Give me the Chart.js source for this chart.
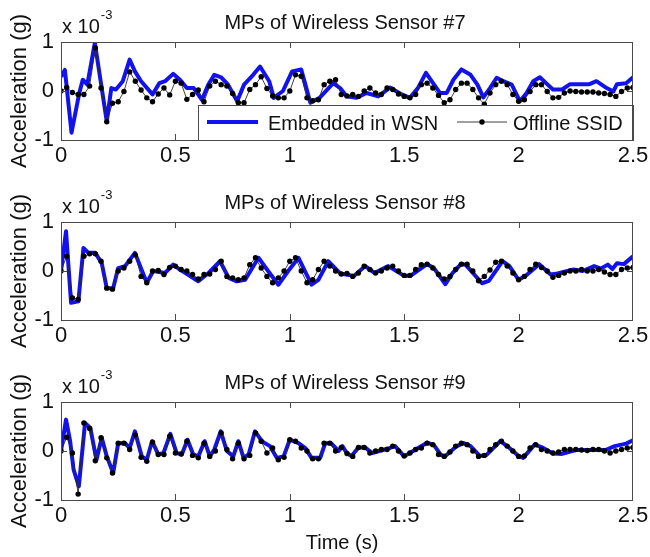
<!DOCTYPE html>
<html>
<head>
<meta charset="utf-8">
<script src="https://cdn.jsdelivr.net/npm/chart.js@4.4.1/dist/chart.umd.min.js"></script>
<style>
  html, body { margin: 0; padding: 0; background: #fff; }
  #wrap { position: relative; width: 650px; height: 557px; }
  canvas { position: absolute; left: 0; }
</style>
</head>
<body>
<div id="wrap">
  <canvas id="c7" width="650" height="180" style="top:0px"></canvas>
  <canvas id="c8" width="650" height="180" style="top:180px"></canvas>
  <canvas id="c9" width="650" height="197" style="top:360px"></canvas>
</div>
<script>
// Axis ticks
const timeTicks = [0, 0.5, 1, 1.5, 2, 2.5];
const accelTicks = [-1, 0, 1];

// Offline SSID mode-shape samples (x 1e-3 g), one every SSID_DT seconds
const SSID_DT = 0.025;
const ssid7 = [
  0, 0.07, -0.03, -0.07, -0.07, 0.10, 0.88, 0.06, -0.63, -0.25,
  -0.22, -0.01, 0.39, 0.2, 0.02, -0.14, -0.22, -0.06, 0.06, -0.08,
  0.2, 0.16, -0.17, -0.07, 0.02, -0.22, 0.1, 0.2, 0.13, 0.1,
  -0.05, -0.24, -0.24, 0.03, 0.13, 0.29, 0.05, -0.1, -0.14, -0.14,
  0, 0.33, 0.3, -0.14, -0.2, -0.18, 0.13, 0.2, 0.23, -0.07,
  -0.1,
  -0.07, -0.11, 0, 0.06, -0.04, -0.07, 0.06, 0.03, -0.06, -0.11,
  -0.14, -0.07, 0.13, 0.16, 0.06, -0.09, -0.24, -0.18, 0.03, 0.16,
  0.16, 0.03, -0.14, -0.27, -0.04, 0.13, 0.2, 0.13, -0.07, -0.21,
  -0.18, -0.01, 0.13, 0.13, -0.01, -0.14, -0.13, -0.04, 0, -0.01,
  -0.02, -0.02, -0.02, -0.04, -0.05, -0.07, -0.11, -0.01, 0.06, 0.07
];
const ssid8 = [
  0, 0.3, -0.55, -0.58, 0.3, 0.35, 0.35, 0.2, -0.35, -0.37,
  0, 0.06, 0.2, 0.33, -0.11, -0.24, 0, 0.01, -0.07, 0.07,
  0.1, 0.03, 0, -0.07, -0.16, -0.07, -0.06, 0.03, 0.2, -0.11,
  -0.14, -0.18, -0.14, 0.13, 0.27, 0.06, -0.11, -0.24, -0.14, 0,
  0.2, 0.27, 0, -0.24, -0.18, 0.03, 0.2, 0.1, 0, -0.06,
  -0.05,
  -0.11, -0.04, 0.1, 0.03, -0.04, 0, 0.06, 0.1, 0, -0.09,
  -0.09, 0.03, 0.13, 0.14, 0.06, -0.07, -0.16, -0.11, 0.03, 0.14,
  0.14, 0, -0.2, -0.11, 0.02, 0.18, 0.2, 0.1, -0.04, -0.18,
  -0.11, 0.03, 0.14, 0.07, 0, -0.13, -0.09, -0.04, 0, 0,
  0.03, 0, 0, 0.03, -0.02, -0.07, -0.07, 0.03, 0.06, 0.07
];
const ssid9 = [
  0, 0.28, -0.04, -0.88, 0.57, 0.46, -0.2, 0.27, -0.14, -0.45,
  0.16, 0.16, 0.03, 0.33, -0.13, -0.21, 0.18, -0.07, -0.07, 0.3,
  -0.04, -0.06, 0.2, -0.09, -0.14, 0.16, -0.11, 0, 0.37, 0.03,
  -0.16, 0.16, -0.16, -0.09, 0.37, 0.2, -0.04, 0.06, -0.18, -0.13,
  0.23, 0.2, 0.06, 0, -0.16, -0.16, 0.16, 0.16, 0, 0.07,
  -0.05,
  -0.11, 0.07, 0.07, -0.04, 0, 0.03, 0.03, 0.1, 0, -0.1,
  -0.04, 0.03, 0.06, 0.16, 0.13, -0.07, -0.11, -0.02, 0.1, 0.16,
  0.13, 0, -0.11, -0.09, 0.03, 0.13, 0.2, 0.1, 0, -0.11,
  -0.1, 0.06, 0.13, 0.03, 0, -0.04, -0.02, 0.03, 0.03, 0.03,
  0.02, 0.01, 0.03, 0.03, 0, -0.04, 0, 0.03, 0.06, 0.07
];

// Mode shapes identified on board the sensor network: [time (s), value]
const wsn7 = [
  [0,0.29],[0.017,0.43],[0.046,-0.85],[0.08,-0.04],[0.095,0.23],[0.115,0.13],[0.148,0.98],[0.2,-0.62],
  [0.22,0.06],[0.24,0.03],[0.27,0.2],[0.3,0.64],[0.323,0.4],[0.35,0.2],[0.4,-0.07],[0.43,0.16],
  [0.455,0.2],[0.49,0.35],[0.52,0.23],[0.55,0.06],[0.58,0.06],[0.616,-0.18],[0.644,0.13],[0.67,0.33],
  [0.7,0.28],[0.73,0.13],[0.77,-0.21],[0.8,0.13],[0.84,0.33],[0.87,0.5],[0.91,0.2],[0.93,-0.14],
  [0.97,0],[1.01,0.4],[1.05,0.44],[1.09,-0.24],[1.13,-0.14],[1.19,0.16],[1.22,0.06],[1.249,-0.11],
  [1.29,-0.14],[1.336,-0.04],[1.386,-0.11],[1.438,0.07],[1.489,-0.07],[1.525,-0.14],[1.56,0.06],[1.595,0.37],
  [1.62,0.2],[1.656,-0.04],[1.686,-0.04],[1.715,0.23],[1.75,0.44],[1.79,0.33],[1.82,0.13],[1.846,-0.13],
  [1.875,0.06],[1.904,0.27],[1.933,0.2],[1.97,0.13],[2.006,-0.21],[2.035,-0.04],[2.064,0.2],[2.093,0.28],
  [2.12,0.16],[2.15,0.03],[2.19,0.03],[2.225,0.14],[2.31,0.14],[2.34,0.2],[2.385,0.06],[2.414,-0.01],
  [2.43,0.14],[2.47,0.16],[2.5,0.28]
];
const wsn8 = [
  [0,0],[0.022,0.81],[0.044,-0.65],[0.076,-0.62],[0.098,0.47],[0.12,0.37],[0.15,0.37],[0.178,0.16],
  [0.2,-0.35],[0.228,-0.35],[0.25,0.06],[0.28,0.1],[0.323,0.37],[0.375,-0.24],[0.403,0],[0.455,-0.04],
  [0.49,0.13],[0.52,0.03],[0.6,-0.21],[0.645,-0.04],[0.695,0.2],[0.733,-0.14],[0.768,-0.21],[0.805,-0.18],
  [0.863,0.27],[0.905,0],[0.95,-0.28],[0.993,0],[1.038,0.27],[1.095,-0.28],[1.125,-0.18],[1.168,0.2],
  [1.22,-0.05],[1.28,-0.1],[1.33,0.1],[1.37,-0.04],[1.43,0.1],[1.5,-0.1],[1.53,-0.09],[1.6,0.14],
  [1.63,0.06],[1.68,-0.27],[1.71,-0.05],[1.75,0.15],[1.77,0.12],[1.84,-0.25],[1.87,-0.2],[1.93,0.2],
  [1.96,0.1],[2.0,-0.18],[2.03,-0.1],[2.09,0.14],[2.14,-0.07],[2.17,-0.05],[2.24,0.03],[2.28,0],
  [2.33,0.1],[2.36,0.05],[2.39,0.13],[2.41,0.04],[2.43,0.16],[2.46,0.14],[2.5,0.3]
];
const wsn9 = [
  [0,0],[0.022,0.64],[0.04,0.2],[0.055,-0.38],[0.078,-0.72],[0.105,0.57],[0.128,0.47],[0.155,-0.18],
  [0.178,0.27],[0.2,-0.11],[0.228,-0.45],[0.25,0.16],[0.28,0.16],[0.3,0.06],[0.323,0.4],[0.353,-0.11],
  [0.375,-0.18],[0.398,0.2],[0.425,-0.07],[0.448,-0.04],[0.478,0.35],[0.505,-0.04],[0.528,-0.07],[0.553,0.23],
  [0.578,-0.07],[0.6,-0.11],[0.628,0.2],[0.65,-0.11],[0.67,0.03],[0.698,0.4],[0.725,0],[0.753,-0.11],
  [0.775,0.2],[0.798,-0.14],[0.82,-0.07],[0.848,0.4],[0.878,0.2],[0.913,0.1],[0.943,-0.14],[0.973,-0.11],
  [1.0,0.23],[1.038,0.16],[1.068,0.06],[1.095,-0.14],[1.133,-0.14],[1.155,0.16],[1.18,0.16],[1.213,0],
  [1.23,0.1],[1.25,-0.05],[1.27,-0.1],[1.3,0.07],[1.33,0.07],[1.36,-0.04],[1.43,0.05],[1.46,0.1],
  [1.5,-0.11],[1.55,0.03],[1.6,0.17],[1.63,0.12],[1.66,-0.08],[1.68,-0.1],[1.73,0.1],[1.76,0.16],
  [1.79,0.1],[1.83,-0.1],[1.86,-0.08],[1.92,0.2],[1.95,0.1],[2.0,-0.1],[2.02,-0.14],[2.07,0.13],
  [2.1,0.08],[2.15,-0.05],[2.19,-0.06],[2.25,0.02],[2.3,0.02],[2.38,0.02],[2.42,0.1],[2.47,0.15],[2.5,0.22]
];

const FONT = '"Liberation Sans", Arial, Helvetica, sans-serif';
const BLUE = 'rgb(18,18,238)';
const FRAME = '#4a4a4a';
const AREA = { left: 61, right: 633, top: 42, bottom: 140 };

// Frame, inward tick marks, titles, exponent and legend
const decorPlugin = {
  id: 'panelDecor',
  afterDatasetsDraw(chart, args, opts) {
    const { ctx, chartArea: a, scales: { x, y } } = chart;
    ctx.save();
    // inward tick marks on all four sides
    ctx.strokeStyle = FRAME;
    ctx.lineWidth = 1;
    ctx.beginPath();
    timeTicks.slice(1, -1).forEach(v => {
      const px = Math.round(x.getPixelForValue(v)) + 0.5;
      ctx.moveTo(px, a.bottom); ctx.lineTo(px, a.bottom - 6);
      ctx.moveTo(px, a.top); ctx.lineTo(px, a.top + 6);
    });
    accelTicks.slice(1, -1).forEach(v => {
      const py = Math.round(y.getPixelForValue(v)) + 0.5;
      ctx.moveTo(a.left, py); ctx.lineTo(a.left + 6, py);
      ctx.moveTo(a.right, py); ctx.lineTo(a.right - 6, py);
    });
    ctx.stroke();

    // legend inside the first panel
    if (opts.legend) {
      const ds = chart.data.datasets;
      const lx = 198, ly = 105, lw = a.right - lx, lh = a.bottom - ly;
      const cy = 122;
      ctx.fillStyle = '#fff';
      ctx.fillRect(lx, ly, lw, lh);
      ctx.strokeStyle = FRAME;
      ctx.strokeRect(lx + 0.5, ly + 0.5, lw, lh);
      ctx.strokeStyle = ds[1].borderColor;
      ctx.lineWidth = ds[1].borderWidth;
      ctx.beginPath(); ctx.moveTo(207, cy); ctx.lineTo(258, cy); ctx.stroke();
      ctx.strokeStyle = ds[0].borderColor;
      ctx.lineWidth = ds[0].borderWidth;
      ctx.beginPath(); ctx.moveTo(457, cy); ctx.lineTo(507, cy); ctx.stroke();
      ctx.fillStyle = '#000';
      ctx.beginPath(); ctx.arc(482, cy, ds[0].pointRadius, 0, Math.PI * 2); ctx.fill();
      ctx.font = '20px ' + FONT;
      ctx.textAlign = 'left';
      ctx.textBaseline = 'alphabetic';
      ctx.fillStyle = '#111';
      ctx.fillText(ds[1].label, 268, cy + 7.5);
      ctx.fillText(ds[0].label, 513, cy + 7.5);
    }

    // axes box
    ctx.strokeStyle = FRAME;
    ctx.lineWidth = 1;
    ctx.strokeRect(a.left + 0.5, a.top + 0.5, a.right - a.left - 1, a.bottom - a.top);

    // title
    ctx.fillStyle = '#111';
    ctx.textBaseline = 'alphabetic';
    ctx.textAlign = 'center';
    ctx.font = '20px ' + FONT;
    ctx.fillText(opts.title, 345, a.top - 13);

    // exponent label
    ctx.textAlign = 'left';
    ctx.font = '20px ' + FONT;
    ctx.fillText('x 10', 62, 33);
    const w = ctx.measureText('x 10').width;
    ctx.font = '13px ' + FONT;
    ctx.fillText('-3', 62 + w + 1, 19);

    // y axis title
    ctx.save();
    ctx.translate(26, (a.top + a.bottom) / 2);
    ctx.rotate(-Math.PI / 2);
    ctx.textAlign = 'center';
    ctx.font = '22px ' + FONT;
    ctx.fillText('Acceleration (g)', 0, 0);
    ctx.restore();

    // x axis title on the bottom panel
    if (opts.xTitle) {
      ctx.textAlign = 'center';
      ctx.font = '20px ' + FONT;
      ctx.fillText(opts.xTitle, 342, a.bottom + 49);
    }
    ctx.restore();
  }
};

function makePanel(id, sensor, wsn, ssid, extra) {
  const canvas = document.getElementById(id);
  const bottomSpace = canvas.height - AREA.bottom;
  return new Chart(canvas, {
    type: 'line',
    data: {
      datasets: [
        {
          label: 'Offline SSID',
          data: ssid.map((v, i) => ({ x: i * SSID_DT, y: v })),
          borderColor: '#2a2a2a',
          backgroundColor: '#000',
          borderWidth: 0.9,
          pointRadius: 2.7,
          pointBackgroundColor: '#000',
          pointBorderWidth: 0,
          tension: 0,
          order: 1
        },
        {
          label: 'Embedded in WSN',
          data: wsn.map(([t, v]) => ({ x: t, y: v })),
          borderColor: BLUE,
          backgroundColor: BLUE,
          borderWidth: 4,
          borderJoinStyle: 'round',
          pointRadius: 0,
          tension: 0,
          order: 2
        }
      ]
    },
    options: {
      responsive: false,
      animation: false,
      devicePixelRatio: 1,
      events: [],
      layout: { padding: { left: 0, right: 650 - AREA.right, top: AREA.top, bottom: 0 } },
      plugins: {
        legend: { display: false },
        tooltip: { enabled: false },
        title: { display: false },
        panelDecor: Object.assign({ title: 'MPs of Wireless Sensor #' + sensor }, extra)
      },
      scales: {
        x: {
          type: 'linear',
          min: timeTicks[0],
          max: timeTicks[timeTicks.length - 1],
          grid: { display: false, drawTicks: false },
          border: { display: false },
          afterBuildTicks: s => { s.ticks = timeTicks.map(v => ({ value: v })); },
          afterFit: s => { s.height = bottomSpace; s.paddingLeft = 0; s.paddingRight = 0; },
          ticks: {
            autoSkip: false,
            maxRotation: 0,
            padding: 3,
            color: '#111',
            font: { family: FONT, size: 22 },
            callback: v => String(v)
          }
        },
        y: {
          type: 'linear',
          min: accelTicks[0],
          max: accelTicks[accelTicks.length - 1],
          grid: { display: false, drawTicks: false },
          border: { display: false },
          afterBuildTicks: s => { s.ticks = accelTicks.map(v => ({ value: v })); },
          afterFit: s => { s.width = AREA.left; s.paddingTop = 0; s.paddingBottom = 0; },
          ticks: {
            autoSkip: false,
            padding: 7,
            color: '#111',
            font: { family: FONT, size: 22 },
            callback: v => String(v)
          }
        }
      }
    },
    plugins: [decorPlugin]
  });
}

makePanel('c7', 7, wsn7, ssid7, { legend: true });
makePanel('c8', 8, wsn8, ssid8, {});
makePanel('c9', 9, wsn9, ssid9, { xTitle: 'Time (s)' });
</script>
</body>
</html>
